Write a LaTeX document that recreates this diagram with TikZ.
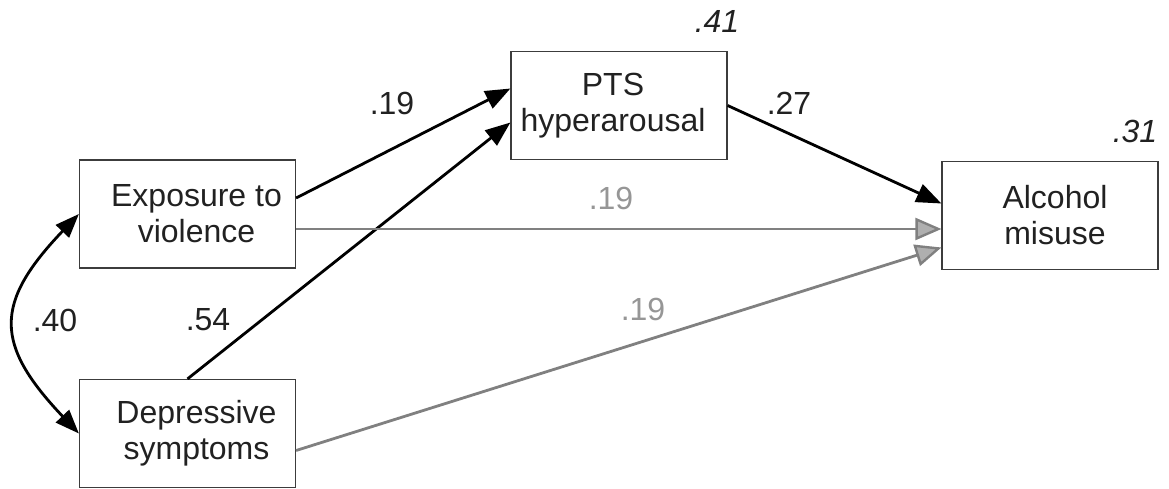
\documentclass[tikz,border=0pt]{standalone}
\usepackage{fontspec}
\setmainfont{Liberation Sans}
\usetikzlibrary{arrows.meta}
\definecolor{pathgray}{RGB}{128,128,128}
\definecolor{labelgray}{RGB}{150,150,150}
\definecolor{headgray}{RGB}{175,175,175}
\definecolor{boxline}{RGB}{60,60,60}
% shift a centred line sideways by half the given amount
\newcommand{\lpad}[1]{\hspace*{#1}}
\begin{document}
\begin{tikzpicture}[x=1pt,y=-1pt,
  every node/.style={font=\fontsize{32}{36}\selectfont, text=black!87},
  varbox/.style={draw=boxline, line width=1.2pt, minimum width=216pt,
    minimum height=108pt, align=center, inner sep=0pt},
  sigpath/.style={line width=2.8pt, black,
    -{Triangle[length=25pt,width=19pt]}},
  nspath/.style={line width=2.8pt, pathgray,
    -{Triangle[length=26pt,width=22pt,fill=headgray,line width=2.4pt]}},
  coef/.style={},
  nscoef/.style={text=labelgray},
  rsq/.style={font=\fontsize{32}{36}\selectfont\itshape}]
\useasboundingbox (0,0) rectangle (1169,489);

% variables
\node[varbox] (expo) at (187.5,214) {\lpad{18pt}Exposure to\\\lpad{18pt}violence};
\node[varbox] (dep)  at (187.5,433.5) {\lpad{18pt}Depressive\\\lpad{18pt}symptoms};
\node[varbox] (pts)  at (619,105.5) {PTS\lpad{12pt}\\hyperarousal\lpad{12pt}};
\node[varbox] (alc)  at (1050,215.5) {\lpad{10pt}Alcohol\\\lpad{10pt}misuse};

% correlation between the exogenous variables
\draw[line width=2.8pt, {Triangle[length=24pt,width=18pt]}-{Triangle[length=24pt,width=18pt]}]
  (expo.west) .. controls (-6,303) and (-6,344) .. (dep.west);

% significant paths
\draw[sigpath] ([yshift=16pt]expo.east) -- ([yshift=17pt]pts.west);
\draw[sigpath] (dep.north) -- ([yshift=-17pt]pts.west);
\draw[sigpath] (pts.east) -- ([yshift=12pt]alc.west);

% non-significant paths
\draw[nspath] ([yshift=-15pt]expo.east) -- ([yshift=-13.5pt]alc.west);
\draw[nspath] ([yshift=-17pt]dep.east) -- ([yshift=-32pt]alc.west);

% path coefficients
\node[coef] (c1) at (392,103) {.19};
\node[coef] (c2) at (789,103) {.27};
\node[coef] (c3) at (55,320) {.40};
\node[coef] (c4) at (208,320) {.54};
\node[nscoef] (c5) at (611,198) {.19};
\node[nscoef] (c6) at (643,309) {.19};

% explained variance
\node[rsq] (r1) at (717,21) {.41};
\node[rsq] (r2) at (1135,131) {.31};
\end{tikzpicture}
\end{document}
